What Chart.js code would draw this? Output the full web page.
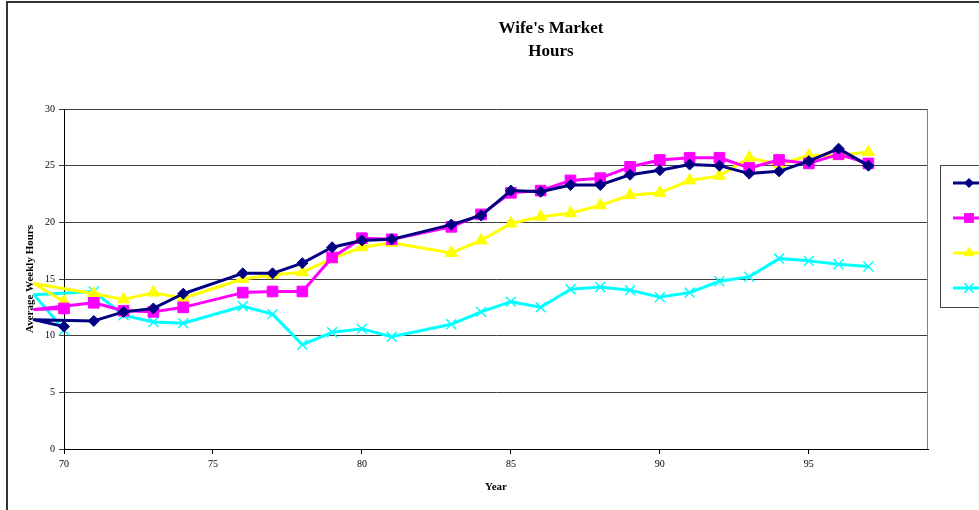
<!DOCTYPE html>
<html>
<head>
<meta charset="utf-8">
<script src="https://cdn.jsdelivr.net/npm/chart.js@4/dist/chart.umd.min.js"></script>
<style>
  html, body { margin: 0; padding: 0; background: #fff; overflow: hidden; }
  #wrap { position: absolute; left: 0; top: 0; width: 1102px; height: 540px; }
</style>
</head>
<body>
<div id="wrap"><canvas id="chart"></canvas></div>
<script>
// years as they appear in the sheet (the 69 row sits after 70)
const years = [70, 69, 71, 72, 73, 74, 76, 77, 78, 79, 80, 81, 83, 84, 85, 86, 87, 88, 89, 90, 91, 92, 93, 94, 95, 96, 97];

const series1 = [10.8, 11.4, 11.3, 12.1, 12.4, 13.7, 15.5, 15.5, 16.4, 17.8, 18.4, 18.5, 19.8, 20.6, 22.8, 22.7, 23.3, 23.3, 24.2, 24.6, 25.1, 25.0, 24.3, 24.5, 25.4, 26.5, 25.0];
const series2 = [12.4, 12.3, 12.9, 12.2, 12.1, 12.5, 13.8, 13.9, 13.9, 16.9, 18.6, 18.5, 19.6, 20.7, 22.6, 22.8, 23.7, 23.9, 24.9, 25.5, 25.7, 25.7, 24.8, 25.5, 25.2, 26.0, 25.2];
const series3 = [13.0, 14.6, 13.7, 13.2, 13.8, 13.3, 15.0, 15.35, 15.6, 16.8, 17.8, 18.2, 17.3, 18.4, 19.9, 20.5, 20.8, 21.5, 22.4, 22.6, 23.7, 24.1, 25.7, 25.1, 25.9, 25.9, 26.2];
const series4 = [10.5, 13.6, 13.9, 11.8, 11.2, 11.1, 12.6, 11.9, 9.2, 10.3, 10.6, 9.9, 11.0, 12.1, 13.0, 12.5, 14.1, 14.3, 14.0, 13.4, 13.8, 14.8, 15.2, 16.8, 16.6, 16.3, 16.1];

const seriesNames = ['Series1', 'Series2', 'Series3', 'Series4'];
const titleLines = ["Wife's Market", 'Hours'];
const xTitle = 'Year';
const yTitle = 'Average Weekly Hours';

const serif = 'Liberation Serif, Times New Roman, serif';

function pts(vals) {
  return years.map((y, i) => ({ x: y, y: vals[i] }));
}

// points left of the axis keep their line but no marker (like the old excel chart)
function rad(r) {
  return ctx => (ctx.raw && ctx.raw.x < 70 ? 0 : r);
}

function makeSet(label, vals, color, style, r, bw) {
  return {
    label: label,
    data: pts(vals),
    showLine: true,
    borderColor: color,
    backgroundColor: color,
    borderWidth: 3,
    borderJoinStyle: 'round',
    borderCapStyle: 'round',
    pointStyle: style,
    pointRadius: rad(r),
    pointHoverRadius: rad(r),
    pointBorderWidth: bw,
    pointBorderColor: color,
    pointBackgroundColor: color,
    tension: 0,
    clip: false
  };
}

const datasets = [
  makeSet(seriesNames[0], series1, '#000080', 'rectRot', 5.5, 1),
  makeSet(seriesNames[1], series2, '#ff00ff', 'rect', 7.5, 1),
  makeSet(seriesNames[2], series3, '#ffff00', 'triangle', 7, 1),
  makeSet(seriesNames[3], series4, '#00ffff', 'crossRot', 7, 1.5)
];

function marker(c, style, x, y, r, color) {
  c.save();
  c.fillStyle = color;
  c.strokeStyle = color;
  c.lineWidth = 1.5;
  c.beginPath();
  if (style === 'rectRot') {
    c.moveTo(x, y - r); c.lineTo(x + r, y); c.lineTo(x, y + r); c.lineTo(x - r, y);
    c.closePath(); c.fill();
  } else if (style === 'rect') {
    const s = r * Math.SQRT1_2;
    c.rect(x - s, y - s, 2 * s, 2 * s); c.fill();
  } else if (style === 'triangle') {
    c.moveTo(x, y - r);
    c.lineTo(x + r * 0.866, y + r * 0.5);
    c.lineTo(x - r * 0.866, y + r * 0.5);
    c.closePath(); c.fill();
  } else {
    const s = r * Math.SQRT1_2;
    c.moveTo(x - s, y - s); c.lineTo(x + s, y + s);
    c.moveTo(x + s, y - s); c.lineTo(x - s, y + s);
    c.stroke();
  }
  c.restore();
}

const frame = {
  id: 'frame',
  beforeDraw(chart) {
    const c = chart.ctx;
    c.save();
    c.fillStyle = '#fff';
    c.fillRect(0, 0, chart.width, chart.height);
    c.strokeStyle = '#333';
    c.lineWidth = 2;
    c.strokeRect(7, 2, chart.width, chart.height);
    c.restore();
  },
  beforeDatasetsDraw(chart) {
    const a = chart.chartArea;
    const c = chart.ctx;
    c.save();
    c.strokeStyle = '#808080';
    c.lineWidth = 1;
    c.beginPath();
    c.moveTo(Math.round(a.right) - 0.5, a.top);
    c.lineTo(Math.round(a.right) - 0.5, a.bottom);
    c.stroke();
    c.restore();
  },
  afterDraw(chart) {
    // boxed legend at the right, like excel
    const c = chart.ctx;
    c.save();
    c.strokeStyle = '#444';
    c.lineWidth = 1;
    c.strokeRect(940.5, 165.5, 120, 142);
    const rows = [183, 218, 253, 288];
    chart.data.datasets.forEach((ds, i) => {
      const y = rows[i];
      c.strokeStyle = ds.borderColor;
      c.lineWidth = 3;
      c.beginPath();
      c.moveTo(953, y);
      c.lineTo(985, y);
      c.stroke();
      const r = ds.pointStyle === 'rectRot' ? 5 : (ds.pointStyle === 'rect' ? 7 : 6.5);
      marker(c, ds.pointStyle, 969, y, r, ds.borderColor);
      c.fillStyle = '#000';
      c.font = '10px ' + serif;
      c.textBaseline = 'middle';
      c.fillText(ds.label, 990, y);
    });
    c.restore();
  }
};

new Chart(document.getElementById('chart'), {
  type: 'scatter',
  data: { datasets: datasets },
  plugins: [frame],
  options: {
    responsive: true,
    maintainAspectRatio: false,
    animation: false,
    events: [],
    layout: { padding: 0 },
    plugins: {
      legend: { display: false },
      tooltip: { enabled: false },
      title: {
        display: true,
        text: titleLines,
        color: '#000',
        font: { family: serif, size: 17, weight: 'bold', lineHeight: 23 / 17 },
        padding: { top: 17.5, bottom: 45.5 }
      }
    },
    scales: {
      x: {
        type: 'linear',
        min: 70,
        max: 99,
        afterFit(s) { s.height = 91; },
        ticks: {
          stepSize: 5,
          includeBounds: false,
          color: '#000',
          padding: 4,
          maxRotation: 0,
          font: { family: serif, size: 10 }
        },
        grid: { drawOnChartArea: false, drawTicks: true, tickLength: 5, color: '#000' },
        border: { display: true, color: '#000', width: 1 },
        title: {
          display: true,
          text: xTitle,
          color: '#000',
          font: { family: serif, size: 11, weight: 'bold' },
          padding: { top: 0, bottom: 46.4 }
        }
      },
      y: {
        type: 'linear',
        min: 0,
        max: 30,
        afterFit(s) { s.width = 64; },
        ticks: {
          stepSize: 5,
          color: '#000',
          padding: 4,
          font: { family: serif, size: 10 }
        },
        grid: { color: '#404040', lineWidth: 1, tickLength: 5, drawTicks: true },
        border: { display: true, color: '#000', width: 1 },
        title: {
          display: true,
          text: yTitle,
          color: '#000',
          font: { family: serif, size: 11, weight: 'bold' },
          padding: { top: 23.4, bottom: 0 }
        }
      },
      // empty scale on the right just to hold the legend room
      spacer: {
        type: 'linear',
        position: 'right',
        display: true,
        afterFit(s) { s.width = 174; },
        ticks: { display: false },
        grid: { display: false },
        border: { display: false }
      }
    }
  }
});
</script>
</body>
</html>
